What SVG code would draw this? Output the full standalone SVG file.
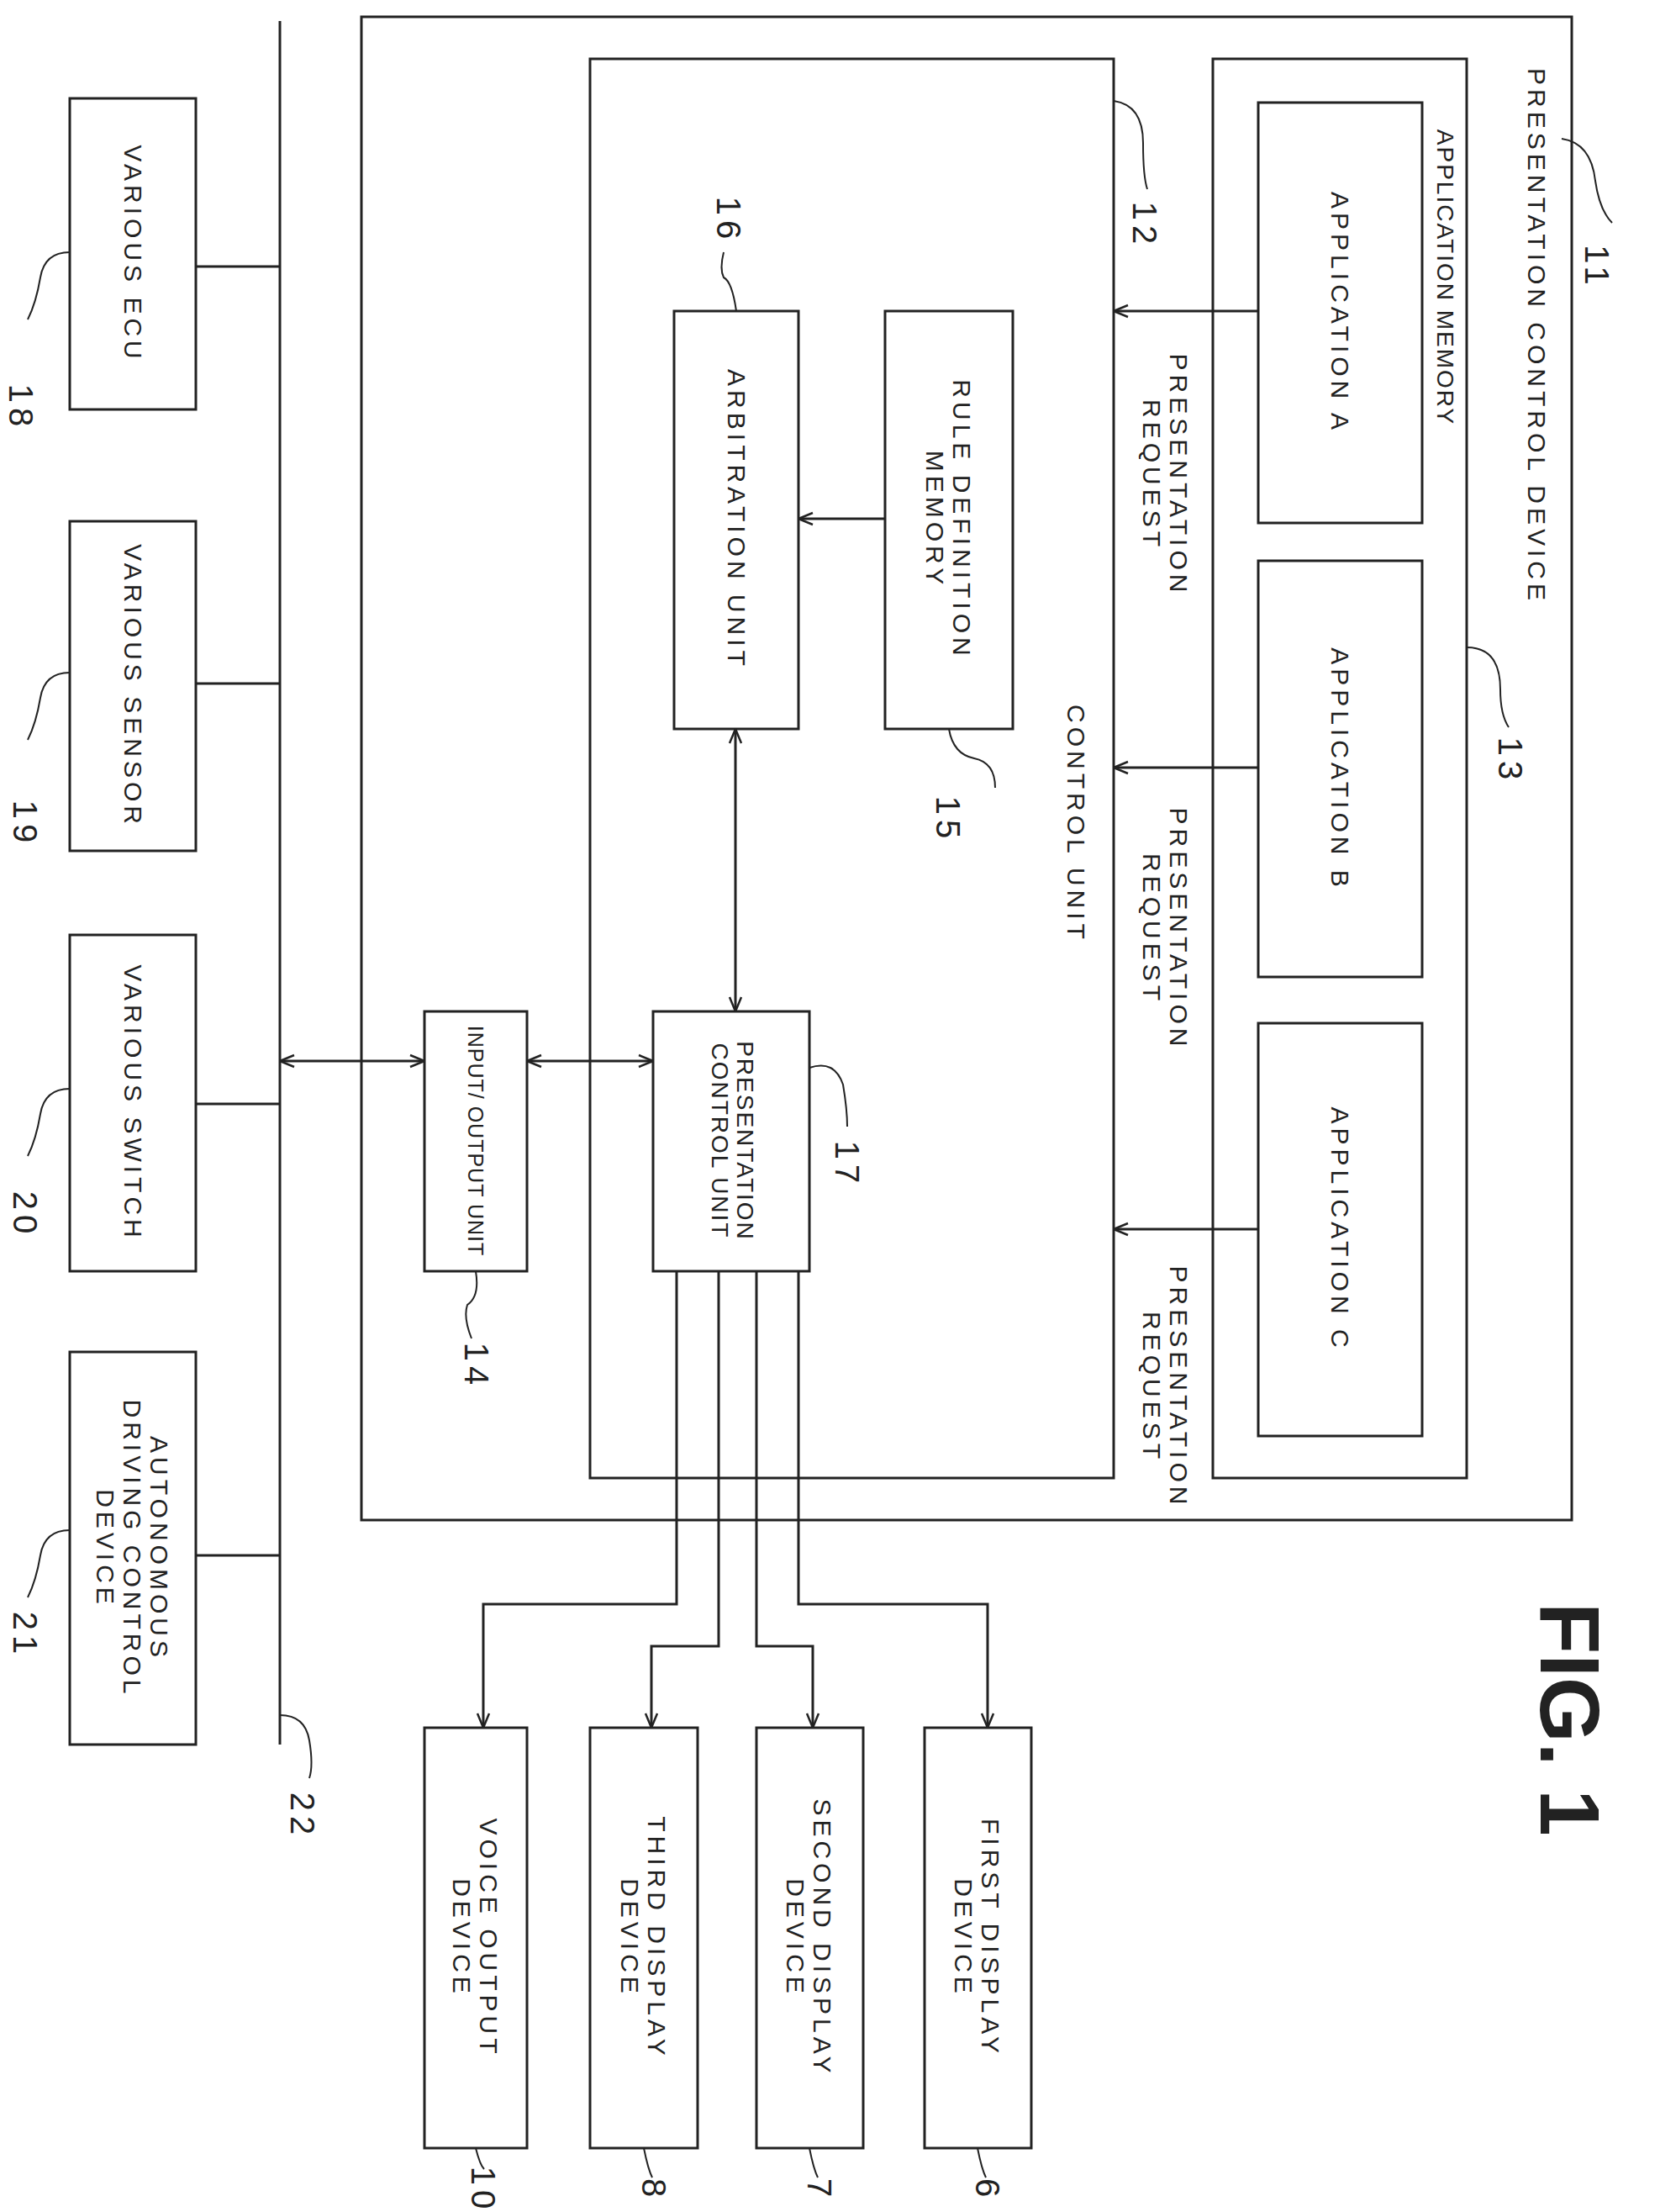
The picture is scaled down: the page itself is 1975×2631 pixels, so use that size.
<svg xmlns="http://www.w3.org/2000/svg" width="1975" height="2631" viewBox="0 0 1975 2631">
<style>
.b{fill:none;stroke:#222;stroke-width:3}
.c{fill:none;stroke:#222;stroke-width:3}
.t{font-family:"Liberation Sans",Arial,sans-serif;font-size:30px;letter-spacing:5px;fill:#222;text-anchor:middle;dominant-baseline:central}
.s{font-family:"Liberation Sans",Arial,sans-serif;font-size:28px;letter-spacing:2px;fill:#222;text-anchor:middle;dominant-baseline:central}
.n{font-family:"Liberation Sans",Arial,sans-serif;font-size:40px;letter-spacing:6px;fill:#222;text-anchor:middle;dominant-baseline:central}
.l{fill:none;stroke:#222;stroke-width:2}
</style>
<defs>
<marker id="a" viewBox="0 0 20 20" refX="19" refY="10" markerWidth="20" markerHeight="20" markerUnits="userSpaceOnUse" orient="auto-start-reverse">
<path d="M2,3 L19,10 L2,17" fill="none" stroke="#222" stroke-width="2.5"/>
</marker>
</defs>
<rect width="1975" height="2631" fill="#fff"/>

<g id="n11"><rect class="b" x="430" y="20" width="1440" height="1788"/>
<text class="t" transform="translate(1828,400) rotate(90)">PRESENTATION CONTROL DEVICE</text>
<path class="l" d="M1858,165 q35,5 40,50 q5,35 20,50"/><text class="n" transform="translate(1900,318) rotate(90)">11</text></g>

<g id="n12"><rect class="b" x="702" y="70" width="623" height="1688"/>
<text class="t" transform="translate(1280,980) rotate(90)">CONTROL UNIT</text>
<path class="l" d="M1325,120 q35,5 35,50 q0,40 5,55"/><text class="n" transform="translate(1362,268) rotate(90)">12</text></g>

<g id="n13"><rect class="b" x="1443" y="70" width="302" height="1688"/>
<text class="s" transform="translate(1719,330) rotate(90)">APPLICATION MEMORY</text>
<path class="l" d="M1745,770 q40,0 40,50 q0,30 10,45"/><text class="n" transform="translate(1797,905) rotate(90)">13</text></g>

<g id="nA"><rect class="b" x="1497" y="122" width="195" height="500"/><text class="t" transform="translate(1594,372) rotate(90)">APPLICATION A</text></g>
<g id="nB"><rect class="b" x="1497" y="667" width="195" height="495"/><text class="t" transform="translate(1594,915) rotate(90)">APPLICATION B</text></g>
<g id="nC"><rect class="b" x="1497" y="1217" width="195" height="491"/><text class="t" transform="translate(1594,1462) rotate(90)">APPLICATION C</text></g>

<g id="n15"><rect class="b" x="1053" y="370" width="152" height="497"/>
<text class="t" transform="translate(1129,618) rotate(90)"><tspan x="0" y="-16">RULE DEFINITION</tspan><tspan x="0" y="16">MEMORY</tspan></text>
<path class="l" d="M1129,867 q5,30 30,35 q25,5 25,35"/><text class="n" transform="translate(1128,975) rotate(90)">15</text></g>

<g id="n16"><rect class="b" x="802" y="370" width="148" height="497"/>
<text class="t" transform="translate(876,618) rotate(90)">ARBITRATION UNIT</text>
<path class="l" d="M876,370 q-5,-35 -15,-40 q-5,-10 0,-30"/><text class="n" transform="translate(867,262) rotate(90)">16</text></g>

<g id="n17"><rect class="b" x="777" y="1203" width="186" height="309"/>
<text class="s" transform="translate(872,1357) rotate(90)"><tspan x="0" y="-15">PRESENTATION</tspan><tspan x="0" y="15">CONTROL UNIT</tspan></text>
<path class="l" d="M963,1270 q30,-10 40,20 q5,30 5,50"/><text class="n" transform="translate(1008,1385) rotate(90)">17</text></g>

<g id="n14"><rect class="b" x="505" y="1203" width="122" height="309"/>
<text style="font-family:'Liberation Sans',Arial,sans-serif;font-size:25px;letter-spacing:1px;fill:#222;text-anchor:middle;dominant-baseline:central" transform="translate(566,1357) rotate(90)">INPUT/ OUTPUT UNIT</text>
<path class="l" d="M566,1512 q5,30 -10,40 q-5,15 5,40"/><text class="n" transform="translate(567,1625) rotate(90)">14</text></g>

<g id="n18"><rect class="b" x="83" y="117" width="150" height="370"/><text class="t" transform="translate(158,302) rotate(90)">VARIOUS ECU</text>
<path class="l" d="M83,300 q-30,0 -35,30 q-5,30 -15,50"/><text class="n" transform="translate(25,485) rotate(90)">18</text></g>
<g id="n19"><rect class="b" x="83" y="620" width="150" height="392"/><text class="t" transform="translate(158,816) rotate(90)">VARIOUS SENSOR</text>
<path class="l" d="M83,800 q-30,0 -35,30 q-5,30 -15,50"/><text class="n" transform="translate(30,980) rotate(90)">19</text></g>
<g id="n20"><rect class="b" x="83" y="1112" width="150" height="400"/><text class="t" transform="translate(158,1312) rotate(90)">VARIOUS SWITCH</text>
<path class="l" d="M83,1295 q-30,0 -35,30 q-5,30 -15,50"/><text class="n" transform="translate(30,1445) rotate(90)">20</text></g>
<g id="n21"><rect class="b" x="83" y="1608" width="150" height="467"/>
<text class="t" transform="translate(158,1842) rotate(90)"><tspan x="0" y="-32">AUTONOMOUS</tspan><tspan x="0" y="0">DRIVING CONTROL</tspan><tspan x="0" y="32">DEVICE</tspan></text>
<path class="l" d="M83,1820 q-30,0 -35,30 q-5,30 -15,50"/><text class="n" transform="translate(30,1945) rotate(90)">21</text></g>

<g id="n22"><line class="c" x1="333" y1="25" x2="333" y2="2075"/>
<path class="l" d="M333,2040 q30,0 35,30 q5,30 0,45"/><text class="n" transform="translate(360,2160) rotate(90)">22</text></g>

<g id="n10"><rect class="b" x="505" y="2055" width="122" height="500"/>
<text class="t" transform="translate(566,2305) rotate(90)"><tspan x="0" y="-16">VOICE OUTPUT</tspan><tspan x="0" y="16">DEVICE</tspan></text>
<path class="l" d="M566,2555 q5,20 10,25"/><text class="n" transform="translate(575,2605) rotate(90)">10</text></g>
<g id="n8"><rect class="b" x="702" y="2055" width="128" height="500"/>
<text class="t" transform="translate(766,2305) rotate(90)"><tspan x="0" y="-16">THIRD DISPLAY</tspan><tspan x="0" y="16">DEVICE</tspan></text>
<path class="l" d="M766,2555 q5,25 10,35"/><text class="n" transform="translate(778,2605) rotate(90)">8</text></g>
<g id="n7"><rect class="b" x="900" y="2055" width="127" height="500"/>
<text class="t" transform="translate(963,2305) rotate(90)"><tspan x="0" y="-16">SECOND DISPLAY</tspan><tspan x="0" y="16">DEVICE</tspan></text>
<path class="l" d="M963,2555 q5,25 10,35"/><text class="n" transform="translate(975,2605) rotate(90)">7</text></g>
<g id="n6"><rect class="b" x="1100" y="2055" width="127" height="500"/>
<text class="t" transform="translate(1163,2305) rotate(90)"><tspan x="0" y="-16">FIRST DISPLAY</tspan><tspan x="0" y="16">DEVICE</tspan></text>
<path class="l" d="M1163,2555 q5,25 10,35"/><text class="n" transform="translate(1175,2605) rotate(90)">6</text></g>

<g id="fig"><text transform="translate(1868,2045) rotate(90)" style="font-family:'Liberation Sans',Arial,sans-serif;font-weight:bold;font-size:100px;fill:#222;text-anchor:middle;dominant-baseline:central">FIG. 1</text></g>

<g id="connectors">
<line class="c" x1="233" y1="317" x2="333" y2="317"/>
<line class="c" x1="233" y1="813" x2="333" y2="813"/>
<line class="c" x1="233" y1="1313" x2="333" y2="1313"/>
<line class="c" x1="233" y1="1850" x2="333" y2="1850"/>
<line class="c" x1="333" y1="1262" x2="505" y2="1262" marker-start="url(#a)" marker-end="url(#a)"/>
<line class="c" x1="627" y1="1262" x2="777" y2="1262" marker-start="url(#a)" marker-end="url(#a)"/>
<line class="c" x1="875" y1="867" x2="875" y2="1203" marker-start="url(#a)" marker-end="url(#a)"/>
<line class="c" x1="1053" y1="617" x2="950" y2="617" marker-end="url(#a)"/>
<line class="c" x1="1497" y1="370" x2="1325" y2="370" marker-end="url(#a)"/>
<line class="c" x1="1497" y1="913" x2="1325" y2="913" marker-end="url(#a)"/>
<line class="c" x1="1497" y1="1462" x2="1325" y2="1462" marker-end="url(#a)"/>
<polyline class="c" points="805,1512 805,1908 575,1908 575,2055" marker-end="url(#a)"/>
<polyline class="c" points="855,1512 855,1958 775,1958 775,2055" marker-end="url(#a)"/>
<polyline class="c" points="900,1512 900,1958 967,1958 967,2055" marker-end="url(#a)"/>
<polyline class="c" points="950,1512 950,1908 1175,1908 1175,2055" marker-end="url(#a)"/>
<text class="t" transform="translate(1387,565) rotate(90)"><tspan x="0" y="-16">PRESENTATION</tspan><tspan x="0" y="16">REQUEST</tspan></text>
<text class="t" transform="translate(1387,1105) rotate(90)"><tspan x="0" y="-16">PRESENTATION</tspan><tspan x="0" y="16">REQUEST</tspan></text>
<text class="t" transform="translate(1387,1650) rotate(90)"><tspan x="0" y="-16">PRESENTATION</tspan><tspan x="0" y="16">REQUEST</tspan></text>
</g>
</svg>
